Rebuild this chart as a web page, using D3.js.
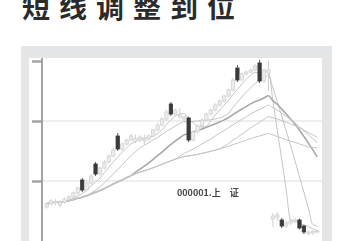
<!DOCTYPE html>
<html>
<head>
<meta charset="utf-8">
<script src="https://cdn.jsdelivr.net/npm/d3@7"></script>
<style>
  html, body { margin: 0; padding: 0; background: #fff; }
  svg { display: block; }
</style>
</head>
<body>
<div id="chart"></div>
<script>
// K-line data (daily)
const opens  = [1670,1685,1690,1680,1695,1710,1720,1740,1805,1755,
                1790,1885,1835,1865,1895,1925,2025,1960,1985,2005,
                1998,2005,2000,2010,2025,2055,2080,2110,2185,2135,
                2120,2110,2115,2005,2045,2075,2105,2135,2155,2180,
                2200,2225,2255,2365,2305,2335,2345,2355,2390,2300,
                2340,1610,1620,1605,1575,1590,1600,1605,1575,1538,
                1540,1545];
const highs  = [1695,1708,1710,1702,1718,1730,1748,1772,1815,1798,
                1835,1895,1872,1905,1932,1965,2040,1992,2012,2035,
                2032,2028,2030,2032,2062,2088,2118,2155,2195,2162,
                2165,2130,2122,2052,2082,2112,2142,2162,2188,2208,
                2232,2262,2315,2380,2342,2352,2362,2382,2405,2362,
                2400,1640,1645,1615,1600,1612,1615,1612,1580,1552,
                1555,1558];
const lows   = [1662,1678,1678,1668,1688,1702,1712,1732,1745,1748,
                1782,1825,1828,1858,1888,1918,1950,1952,1978,1998,
                1990,1994,1982,2000,2018,2048,2072,2102,2125,2128,
                2112,2092,1995,1998,2038,2068,2098,2128,2148,2172,
                2192,2218,2248,2295,2298,2328,2338,2348,2290,2292,
                2250,1570,1600,1565,1565,1580,1590,1558,1535,1528,
                1532,1538];
const closes = [1685,1700,1698,1695,1710,1720,1740,1765,1755,1790,
                1825,1835,1865,1895,1925,1955,1960,1985,2005,2025,
                2012,2020,2010,2025,2055,2080,2110,2145,2135,2155,
                2130,2120,2005,2045,2075,2105,2135,2155,2180,2200,
                2225,2255,2305,2305,2335,2345,2355,2375,2300,2355,
                2355,1625,1630,1575,1590,1600,1605,1565,1545,1545,
                1548,1550];
const maPeriods = [5, 10, 20, 30, 40, 60];
const yTicks = [1800, 2100, 2400];
const title = '短线调整到位';
const note = '000001.上　证';

const W = 337, H = 241;
const svg = d3.select('#chart').append('svg')
  .attr('width', W).attr('height', H);

// soft blur to imitate the printed look
const defs = svg.append('defs');
defs.append('filter').attr('id', 'soft')
  .append('feGaussianBlur').attr('stdDeviation', 0.75);

// Title
svg.append('text')
  .attr('x', 22).attr('y', 18)
  .attr('font-family', '"Noto Sans CJK SC", sans-serif')
  .attr('font-size', 28)
  .attr('font-weight', 'bold')
  .attr('letter-spacing', 9)
  .attr('fill', '#2b2b2b')
  .text(title);

// Gray frame and white plot panel
svg.append('rect').attr('x', 21).attr('y', 46).attr('width', 311).attr('height', H - 46)
  .attr('fill', '#e4e5e7');
svg.append('rect').attr('x', 29).attr('y', 58).attr('width', 293).attr('height', H - 58)
  .attr('fill', '#ffffff');

const g = svg.append('g').attr('filter', 'url(#soft)');

const x = d3.scaleBand()
  .domain(d3.range(closes.length))
  .range([44, 320])
  .padding(0.25);
const y = d3.scaleLinear().domain([1480, 2400]).range([245, 61]);

// Gridlines
g.append('g').selectAll('line')
  .data(yTicks.slice(0, 2))
  .enter().append('line')
  .attr('x1', 42).attr('x2', 322)
  .attr('y1', d => y(d)).attr('y2', d => y(d))
  .attr('stroke', '#dedede').attr('stroke-width', 1);

// Left axis
const axis = g.append('g')
  .attr('transform', 'translate(42,0)')
  .call(d3.axisLeft(y).tickValues(yTicks).tickSize(10).tickFormat(''));
axis.select('.domain').remove();
axis.selectAll('.tick line').attr('stroke', '#a5a5a5').attr('stroke-width', 2.5);
g.append('line')
  .attr('x1', 42).attr('x2', 42).attr('y1', 58).attr('y2', H)
  .attr('stroke', '#999').attr('stroke-width', 1.8);

// Moving averages (partial windows at the start)
const maLine = d3.line().x((d, i) => x(i) + x.bandwidth() / 2).y(d => y(d)).curve(d3.curveMonotoneX);
maPeriods.forEach(p => {
  const ma = closes.map((c, i) => d3.mean(closes.slice(Math.max(0, i - p + 1), i + 1)));
  g.append('path')
    .attr('d', maLine(ma))
    .attr('fill', 'none')
    .attr('stroke', p === 20 ? '#a8a8a8' : '#c4c4c4')
    .attr('stroke-width', p === 20 ? 1.6 : 1);
});

// Candles
const candles = g.append('g').selectAll('g')
  .data(closes.map((c, i) => ({ i, o: opens[i], h: highs[i], l: lows[i], c })))
  .enter().append('g');

candles.append('line')
  .attr('x1', d => x(d.i) + x.bandwidth() / 2)
  .attr('x2', d => x(d.i) + x.bandwidth() / 2)
  .attr('y1', d => y(d.h)).attr('y2', d => y(d.l))
  .attr('stroke', d => d.c < d.o ? '#555' : '#cfcfcf')
  .attr('stroke-width', 1);

candles.append('rect')
  .attr('x', d => x(d.i))
  .attr('width', x.bandwidth())
  .attr('y', d => y(Math.max(d.o, d.c)))
  .attr('height', d => Math.max(1, Math.abs(y(d.o) - y(d.c))))
  .attr('fill', d => d.c < d.o ? '#3a3a3a' : '#ececec')
  .attr('stroke', d => d.c < d.o ? '#3a3a3a' : '#d2d2d2')
  .attr('stroke-width', 0.8);

// Note text
g.append('text')
  .attr('x', 177).attr('y', 196)
  .attr('font-family', '"Noto Sans CJK SC", sans-serif')
  .attr('font-size', 9)
  .attr('font-weight', 'bold')
  .attr('fill', '#444')
  .text(note);
</script>
</body>
</html>
